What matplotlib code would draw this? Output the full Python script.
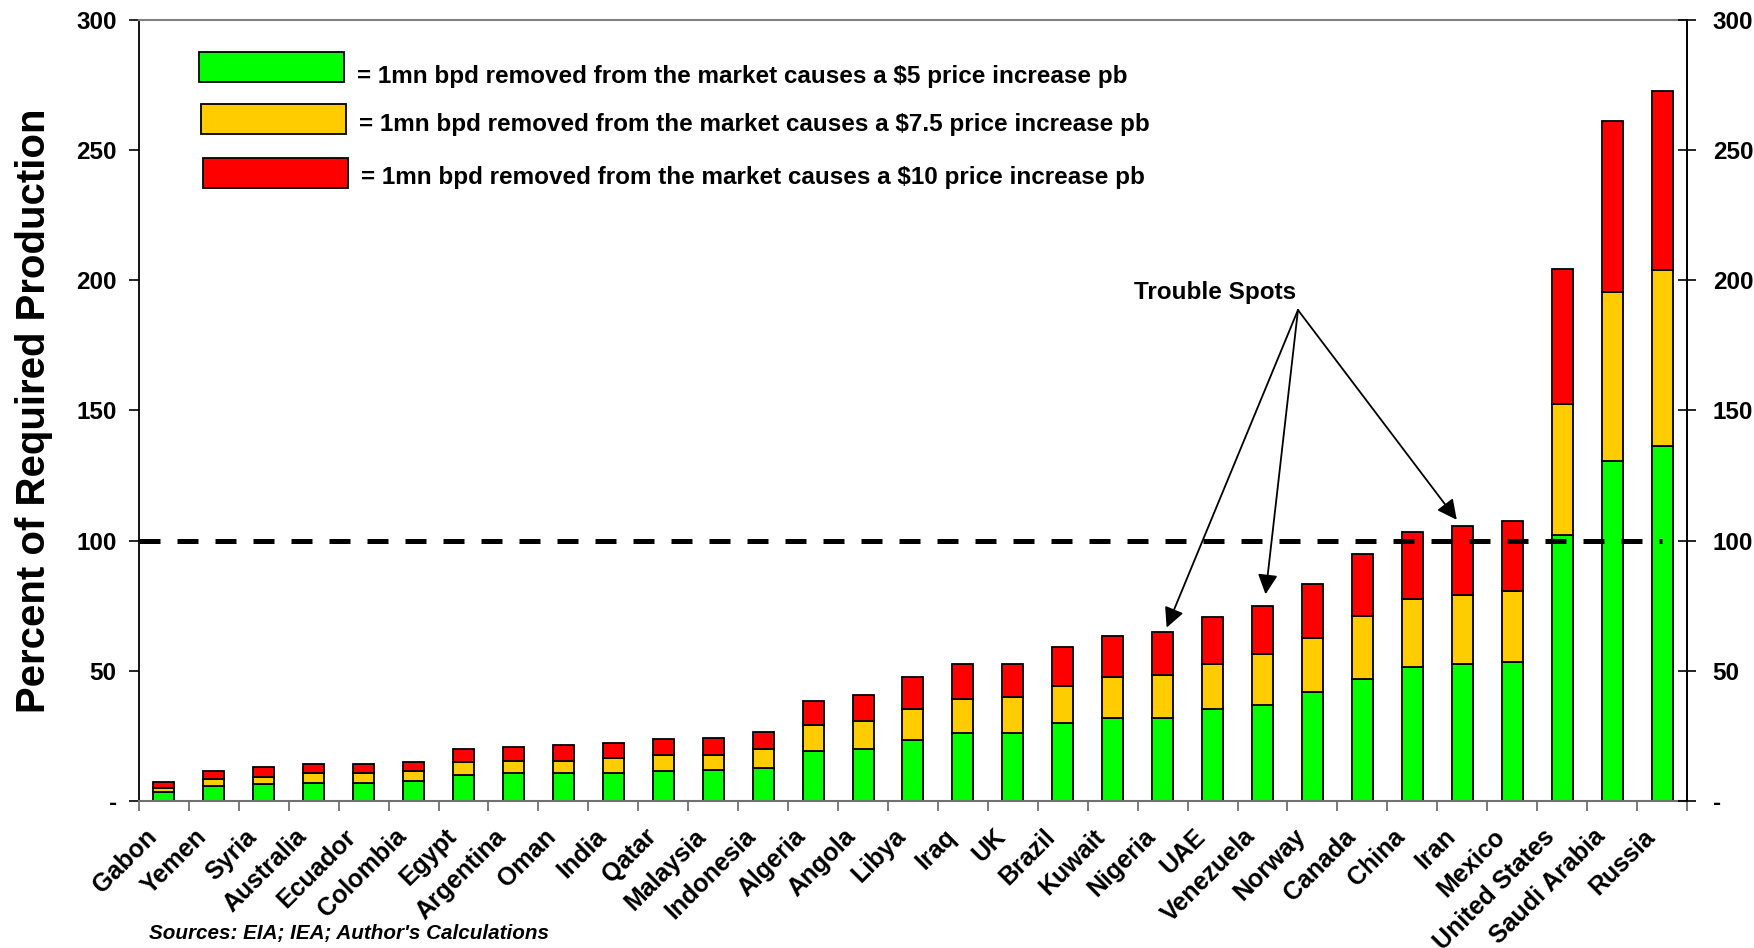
import numpy as np
import matplotlib.pyplot as plt
from matplotlib.patches import Rectangle
from matplotlib.transforms import ScaledTranslation

plt.rcParams['font.family'] = ['Liberation Sans', 'DejaVu Sans']
plt.rcParams['font.weight'] = 'bold'

# data (percent of required production)
countries = ['Gabon', 'Yemen', 'Syria', 'Australia', 'Ecuador', 'Colombia', 'Egypt',
             'Argentina', 'Oman', 'India', 'Qatar', 'Malaysia', 'Indonesia', 'Algeria',
             'Angola', 'Libya', 'Iraq', 'UK', 'Brazil', 'Kuwait', 'Nigeria', 'UAE',
             'Venezuela', 'Norway', 'Canada', 'China', 'Iran', 'Mexico', 'United States',
             'Saudi Arabia', 'Russia']
green = [3.5, 5.8, 6.4, 7.0, 7.0, 7.8, 10.0, 10.6, 10.6, 10.6, 11.4, 11.9, 12.8, 19.2,
         20.0, 23.6, 26.1, 26.1, 29.8, 31.9, 31.9, 35.5, 36.9, 42.0, 47.0, 51.4, 52.8,
         53.4, 102.2, 130.5, 136.4]
yellow = [1.4, 2.8, 2.9, 3.6, 3.6, 3.7, 4.9, 4.9, 4.9, 5.8, 6.3, 5.8, 7.2, 9.9, 10.7,
          11.9, 13.1, 13.7, 14.4, 15.7, 16.6, 17.3, 19.4, 20.7, 24.2, 26.3, 26.3, 27.3,
          50.4, 64.9, 67.6]
red = [2.3, 2.8, 3.8, 3.7, 3.7, 3.6, 5.2, 5.2, 6.0, 5.8, 6.0, 6.6, 6.5, 9.4, 10.0, 12.3,
       13.6, 13.0, 15.1, 15.9, 16.4, 17.9, 18.6, 20.8, 23.8, 25.8, 26.7, 27.0, 51.6, 65.7,
       68.8]
legend_labels = ['= 1mn bpd removed from the market causes a $5 price increase pb',
                 '= 1mn bpd removed from the market causes a $7.5 price increase pb',
                 '= 1mn bpd removed from the market causes a $10 price increase pb']
threshold = 100
trouble_spots = ['Nigeria', 'Venezuela', 'Iran']
y_ticks = [0, 50, 100, 150, 200, 250, 300]
y_ticklabels = ['-', '50', '100', '150', '200', '250', '300']

colors = ['#00FF00', '#FFCC00', '#FF0000']

fig = plt.figure(figsize=(17.54, 9.48), dpi=100)
ax = fig.add_axes([0.0792, 0.1551, 0.8826, 0.8238])

x = np.arange(len(countries))
g = np.array(green)
yl = np.array(yellow)
r = np.array(red)

ax.bar(x, g, width=0.42, color=colors[0], edgecolor='black', linewidth=1.3, zorder=2)
ax.bar(x, yl, bottom=g, width=0.42, color=colors[1], edgecolor='black', linewidth=1.3, zorder=2)
ax.bar(x, r, bottom=g + yl, width=0.42, color=colors[2], edgecolor='black', linewidth=1.3, zorder=2)

# 100% line
ax.hlines(threshold, -0.5, x[-1], colors='black', linewidth=3.6,
          linestyles=(0, (4.2, 3.4)), zorder=5)

ax.set_xlim(-0.5, len(countries) - 0.5)
ax.set_ylim(0, 300)

# spines
ax.spines['top'].set_color('#808080')
ax.spines['top'].set_linewidth(1.5)
ax.spines['bottom'].set_color('#707070')
ax.spines['bottom'].set_linewidth(1.5)
ax.spines['left'].set_linewidth(1.3)
ax.spines['right'].set_linewidth(1.3)

# x ticks: labels at centres, marks at boundaries
ax.set_xticks(x)
ax.set_xticklabels(countries, rotation=45, ha='right', va='center',
                   rotation_mode='anchor', fontsize=18)
ax.set_xticks(np.arange(-0.5, len(countries), 1), minor=True)
ax.tick_params(axis='x', which='major', length=0, pad=23)
ax.tick_params(axis='x', which='minor', length=7, width=1.3, color='#707070', direction='out')
shift = ScaledTranslation(-11 / 100, 0, fig.dpi_scale_trans)
for lab in ax.get_xticklabels():
    lab.set_transform(lab.get_transform() + shift)

ax.set_yticks(y_ticks)
ax.set_yticklabels(y_ticklabels, fontsize=17.5)
ax.tick_params(axis='y', length=7, width=1.2, direction='out', pad=9)

ax2 = ax.twinx()
ax2.set_ylim(ax.get_ylim())
ax2.set_yticks(y_ticks)
ax2.set_yticklabels(y_ticklabels, fontsize=17.5)
ax2.tick_params(axis='y', length=13, width=1.2, direction='inout', pad=12)
for s in ['top', 'bottom', 'left']:
    ax2.spines[s].set_visible(False)
ax2.spines['right'].set_linewidth(1.3)

ax.set_ylabel('Percent of Required Production', fontsize=28.9, fontweight='bold')
ax.yaxis.set_label_coords(-0.068, 0.5)
ax.yaxis.label.set_va('center')

# legend boxes drawn by hand
box_x = [0.0388, 0.0400, 0.0414]
box_y = [0.9206, 0.854, 0.785]
text_y = [0.928, 0.8668, 0.7977]
for i in range(3):
    ax.add_patch(Rectangle((box_x[i], box_y[i]), 0.0936, 0.0384, transform=ax.transAxes,
                           facecolor=colors[i], edgecolor='black', linewidth=1.3, clip_on=False))
    ax.text(box_x[i] + 0.1022, text_y[i], legend_labels[i], transform=ax.transAxes,
            fontsize=17.5, ha='left', va='center')

# trouble spots annotation
ax.text(21.05, 195.5, 'Trouble Spots', fontsize=17.5, ha='center', va='center')
tip_dx = [0.08, 0.06, -0.11]
tip_dy = [1.7, 4.5, 2.2]
tops = g + yl + r
for k, name in enumerate(trouble_spots):
    i = countries.index(name)
    ax.annotate('', xy=(i + tip_dx[k], tops[i] + tip_dy[k]), xytext=(22.71, 188.6),
                arrowprops=dict(arrowstyle='-|>,head_length=0.6,head_width=0.3',
                                color='black', linewidth=1.3, mutation_scale=20,
                                shrinkA=0, shrinkB=0), zorder=6)

fig.text(0.085, 0.0148, "Sources: EIA; IEA; Author's Calculations", fontsize=14.9,
         style='italic', ha='left', va='center')

plt.savefig('out.png', dpi=100)
